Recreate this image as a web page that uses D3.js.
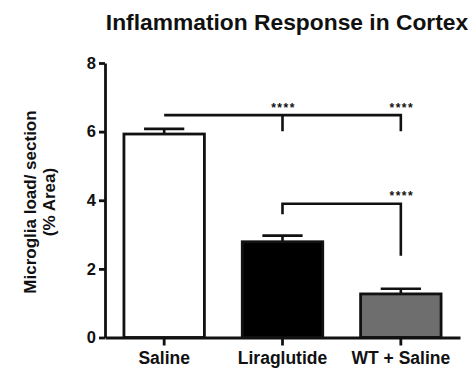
<!DOCTYPE html>
<html>
<head>
<meta charset="utf-8">
<script src="https://cdn.jsdelivr.net/npm/d3@7"></script>
<style>
  body { margin: 0; background: #fff; }
  text { font-family: "Liberation Sans", Arial, sans-serif; font-weight: bold; fill: #111; }
  .axis path, .axis line { stroke: #111; stroke-width: 2.8; }
</style>
</head>
<body>
<div id="chart"></div>
<script>
// Data
const groups = ["Saline", "Liraglutide", "WT + Saline"];
const means = [5.93, 2.79, 1.27];
const sems = [0.15, 0.18, 0.15];
const fills = ["#ffffff", "#000000", "#6e6e6e"];
const yTicks = [0, 2, 4, 6, 8];

// significance brackets: line level, and where the drops go down to
const sigTop = { from: "Saline", to: "WT + Saline", level: 6.48, drops: [["Liraglutide", 6.01], ["WT + Saline", 6.01]] };
const sigLow = { from: "Liraglutide", to: "WT + Saline", level: 3.9, drops: [["Liraglutide", 3.59], ["WT + Saline", 2.38]] };
const sigLabels = [["Liraglutide", 6.48], ["WT + Saline", 6.48], ["WT + Saline", 3.9]];

const dims = { width: 472, height: 370, left: 105, right: 460, top: 63, bottom: 337.5 };

const svg = d3.select("#chart").append("svg")
  .attr("width", dims.width)
  .attr("height", dims.height);

const xScale = d3.scaleBand()
  .domain(groups)
  .range([dims.left, dims.right])
  .paddingInner(0.32)
  .paddingOuter(0.16);

const yScale = d3.scaleLinear()
  .domain([0, 8])
  .range([dims.bottom, dims.top]);

const cx = (g) => xScale(g) + xScale.bandwidth() / 2;

// title
svg.append("text")
  .attr("x", 287)
  .attr("y", 30)
  .attr("text-anchor", "middle")
  .style("font-size", "22.8px")
  .text("Inflammation Response in Cortex");

// y label
const yLabel = svg.append("text")
  .attr("transform", "translate(0,202) rotate(-90)")
  .attr("text-anchor", "middle")
  .style("font-size", "17px");
yLabel.append("tspan").attr("x", 0).attr("y", 36).text("Microglia load/ section");
yLabel.append("tspan").attr("x", 0).attr("y", 55).text("(% Area)");

// bars
svg.selectAll("rect.bar")
  .data(groups)
  .join("rect")
  .attr("class", "bar")
  .attr("x", (d) => xScale(d))
  .attr("y", (d, i) => yScale(means[i]))
  .attr("width", xScale.bandwidth())
  .attr("height", (d, i) => yScale(0) - yScale(means[i]))
  .attr("fill", (d, i) => fills[i])
  .attr("stroke", "#111")
  .attr("stroke-width", 2.8);

// error bars
const err = svg.append("g").attr("stroke", "#111").attr("stroke-width", 2.6);
err.selectAll("line.stem")
  .data(groups)
  .join("line")
  .attr("x1", cx).attr("x2", cx)
  .attr("y1", (d, i) => yScale(means[i]))
  .attr("y2", (d, i) => yScale(means[i] + sems[i]));
err.selectAll("line.cap")
  .data(groups)
  .join("line")
  .attr("x1", (d) => cx(d) - xScale.bandwidth() / 4)
  .attr("x2", (d) => cx(d) + xScale.bandwidth() / 4)
  .attr("y1", (d, i) => yScale(means[i] + sems[i]))
  .attr("y2", (d, i) => yScale(means[i] + sems[i]));

// axes
svg.append("g")
  .attr("class", "axis")
  .attr("transform", `translate(${dims.left},0)`)
  .call(d3.axisLeft(yScale).tickValues(yTicks).tickSize(6).tickSizeOuter(0).tickPadding(3))
  .call((g) => g.selectAll("text").style("font-size", "16.5px").attr("fill", "#111"));

svg.append("g")
  .attr("class", "axis")
  .attr("transform", `translate(0,${dims.bottom})`)
  .call(d3.axisBottom(xScale).tickSize(8).tickSizeOuter(0).tickPadding(6))
  .call((g) => g.selectAll("text").style("font-size", "17.5px").attr("fill", "#111"));

// significance brackets
const sig = svg.append("g").attr("fill", "none").attr("stroke", "#111").attr("stroke-width", 2.6);
[sigTop, sigLow].forEach((b) => {
  const left = b.drops.find((d) => d[0] === b.from);
  const path = d3.path();
  if (left) {
    path.moveTo(cx(b.from), yScale(left[1]));
    path.lineTo(cx(b.from), yScale(b.level));
  } else {
    path.moveTo(cx(b.from), yScale(b.level));
  }
  path.lineTo(cx(b.to), yScale(b.level));
  const right = b.drops.find((d) => d[0] === b.to);
  if (right) path.lineTo(cx(b.to), yScale(right[1]));
  b.drops.filter((d) => d[0] !== b.from && d[0] !== b.to).forEach((d) => {
    path.moveTo(cx(d[0]), yScale(b.level));
    path.lineTo(cx(d[0]), yScale(d[1]));
  });
  sig.append("path").attr("d", path.toString());
});

svg.selectAll("text.stars")
  .data(sigLabels)
  .join("text")
  .attr("class", "stars")
  .attr("x", (d) => cx(d[0]) + 1)
  .attr("y", (d) => yScale(d[1]) - 3.5)
  .attr("text-anchor", "middle")
  .style("font-size", "12px")
  .style("letter-spacing", "1.5px")
  .attr("fill", "#444")
  .text("****");
</script>
</body>
</html>
